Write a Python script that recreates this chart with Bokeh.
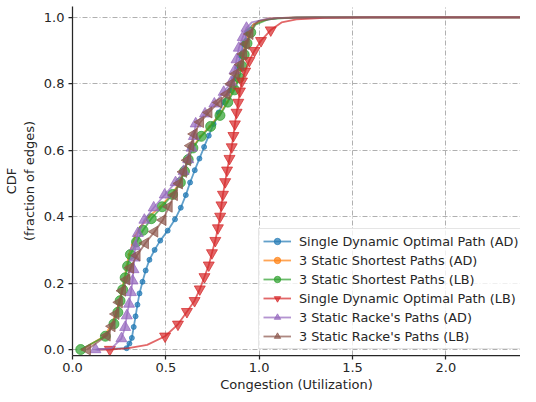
import math
from bokeh.plotting import figure
from bokeh.models import Range1d, FixedTicker, PrintfTickFormatter, Legend, LegendItem
from bokeh.embed import file_html
from bokeh.resources import INLINE

# ---------------- data ----------------
series_names = [
    "Single Dynamic Optimal Path (AD)",
    "3 Static Shortest Paths (AD)",
    "3 Static Shortest Paths (LB)",
    "Single Dynamic Optimal Path (LB)",
    "3 Static Racke's Paths (AD)",
    "3 Static Racke's Paths (LB)",
]

# Single Dynamic Optimal Path (AD)
blue_head_x = [0.13]
blue_head_y = [0.0]
blue_x = [0.29, 0.305, 0.318, 0.328, 0.338, 0.348, 0.359, 0.375, 0.392, 0.412, 0.44, 0.47, 0.51,
          0.549, 0.58, 0.607, 0.63, 0.655, 0.68, 0.705, 0.73, 0.756, 0.783, 0.81, 0.843, 0.865,
          0.884, 0.9, 0.917, 0.935]
blue_y = [0.004, 0.018, 0.035, 0.068, 0.1, 0.135, 0.169, 0.204, 0.238, 0.27, 0.3, 0.328, 0.358,
          0.392, 0.427, 0.465, 0.503, 0.54, 0.575, 0.61, 0.644, 0.679, 0.714, 0.745, 0.78, 0.815,
          0.85, 0.885, 0.92, 0.955]
blue_tail_x = [0.96, 1.0, 1.1, 1.3, 2.45]
blue_tail_y = [0.975, 0.99, 0.998, 1.0, 1.0]

# 3 Static Shortest Paths (AD)
orange_head_x = []
orange_head_y = []
orange_x = [0.05, 0.17, 0.21, 0.235, 0.25, 0.265, 0.278, 0.29, 0.302, 0.32, 0.334, 0.365, 0.41,
            0.47, 0.53, 0.575, 0.598, 0.618, 0.642, 0.685, 0.735, 0.785, 0.828, 0.862, 0.888,
            0.9, 0.912, 0.925, 0.945]
orange_y = [0.0, 0.04, 0.077, 0.112, 0.147, 0.18, 0.216, 0.251, 0.286, 0.315, 0.341, 0.37, 0.4,
            0.43, 0.467, 0.503, 0.537, 0.572, 0.607, 0.642, 0.672, 0.705, 0.745, 0.782, 0.818,
            0.853, 0.888, 0.922, 0.955]
orange_tail_x = [0.97, 1.05, 1.2, 2.45]
orange_tail_y = [0.98, 0.997, 1.0, 1.0]

# 3 Static Shortest Paths (LB)
green_head_x = []
green_head_y = []
green_x = [0.044, 0.176, 0.222, 0.243, 0.255, 0.269, 0.282, 0.295, 0.31, 0.343, 0.378, 0.422,
           0.48, 0.536, 0.578, 0.6, 0.62, 0.645, 0.69, 0.74, 0.79, 0.832, 0.868, 0.893, 0.908,
           0.92, 0.935, 0.955]
green_y = [0.0, 0.04, 0.077, 0.112, 0.147, 0.18, 0.216, 0.251, 0.286, 0.324, 0.359, 0.394,
           0.43, 0.467, 0.503, 0.537, 0.572, 0.607, 0.642, 0.672, 0.705, 0.745, 0.782, 0.818,
           0.853, 0.888, 0.922, 0.955]
green_tail_x = [0.98, 1.05, 1.2, 2.45]
green_tail_y = [0.978, 0.995, 1.0, 1.0]

# Single Dynamic Optimal Path (LB)
red_head_x = [0.14]
red_head_y = [0.0]
red_x = [0.2, 0.3, 0.4, 0.496, 0.565, 0.613, 0.654, 0.682, 0.707, 0.73, 0.747, 0.765, 0.779,
         0.791, 0.798, 0.806, 0.818, 0.828, 0.841, 0.853, 0.862, 0.87, 0.879, 0.888, 0.897,
         0.908, 0.925, 0.947, 0.975, 1.01, 1.062]
red_y = [0.0, 0.004, 0.014, 0.04, 0.076, 0.114, 0.147, 0.182, 0.219, 0.254, 0.291, 0.328, 0.366,
         0.401, 0.435, 0.467, 0.505, 0.54, 0.575, 0.61, 0.644, 0.679, 0.714, 0.744, 0.778,
         0.808, 0.838, 0.87, 0.9, 0.93, 0.962]
red_unmarked = [0.3, 0.4]
red_tail_x = [1.12, 1.2, 1.35, 1.6, 2.45]
red_tail_y = [0.985, 0.994, 0.999, 1.0, 1.0]

# 3 Static Racke's Paths (AD)
purple_head_x = []
purple_head_y = []
purple_x = [0.123, 0.21, 0.262, 0.282, 0.291, 0.303, 0.313, 0.322, 0.327, 0.332, 0.336, 0.35,
            0.385, 0.435, 0.494, 0.552, 0.595, 0.62, 0.638, 0.65, 0.66, 0.71, 0.76, 0.81, 0.85,
            0.868, 0.879, 0.891, 0.912, 0.932]
purple_y = [0.0, 0.004, 0.033, 0.067, 0.102, 0.137, 0.172, 0.207, 0.241, 0.276, 0.31, 0.35,
            0.39, 0.427, 0.466, 0.503, 0.537, 0.572, 0.607, 0.642, 0.68, 0.71, 0.74, 0.775,
            0.805, 0.84, 0.873, 0.908, 0.94, 0.968]
purple_unmarked = [0.21]
purple_tail_x = [0.96, 1.05, 1.2, 2.45]
purple_tail_y = [0.985, 0.997, 1.0, 1.0]

# 3 Static Racke's Paths (LB)
brown_head_x = []
brown_head_y = []
brown_x = [0.079, 0.185, 0.211, 0.232, 0.25, 0.267, 0.29, 0.31, 0.345, 0.39, 0.44, 0.484, 0.517,
           0.545, 0.572, 0.594, 0.616, 0.633, 0.651, 0.685, 0.73, 0.783, 0.826, 0.85, 0.875,
           0.9, 0.915, 0.93, 0.95]
brown_y = [0.0, 0.042, 0.07, 0.107, 0.142, 0.177, 0.211, 0.246, 0.283, 0.32, 0.355, 0.39, 0.43,
           0.465, 0.5, 0.535, 0.57, 0.614, 0.649, 0.685, 0.714, 0.744, 0.769, 0.8, 0.83, 0.858,
           0.89, 0.92, 0.95]
brown_tail_x = [0.975, 1.0, 1.1, 1.3, 2.45]
brown_tail_y = [0.978, 0.99, 0.998, 1.0, 1.0]

x_ticks = [0.0, 0.5, 1.0, 1.5, 2.0]
y_ticks = [0.0, 0.2, 0.4, 0.6, 0.8, 1.0]

# ---------------- figure ----------------
FONT = "DejaVu Sans"
p = figure(width=520, height=394, x_range=Range1d(0, 2.40), y_range=Range1d(-0.018, 1.033),
           output_backend="svg", toolbar_location=None,
           min_border_left=65, min_border_right=0, min_border_top=6, min_border_bottom=30)
p.outline_line_color = None
p.background_fill_color = "white"

for ax in (p.xaxis[0], p.yaxis[0]):
    ax.axis_line_color = "#262626"
    ax.axis_line_width = 1.25
    ax.major_tick_line_color = "#262626"
    ax.major_tick_line_width = 1.25
    ax.major_tick_out = 4
    ax.major_tick_in = 0
    ax.minor_tick_line_color = None
    ax.major_label_text_font = FONT
    ax.major_label_text_font_size = "13px"
    ax.major_label_text_color = "#262626"
    ax.axis_label_text_font = FONT
    ax.axis_label_text_font_size = "13px"
    ax.axis_label_text_font_style = "normal"
    ax.axis_label_text_color = "#262626"
    ax.formatter = PrintfTickFormatter(format="%.1f")

p.xaxis.ticker = FixedTicker(ticks=x_ticks)
p.yaxis.ticker = FixedTicker(ticks=y_ticks)
p.xaxis.axis_label = "Congestion (Utilization)"
p.yaxis.axis_label = "CDF\n(fraction of edges)"
p.xaxis.major_label_standoff = 3
p.yaxis.major_label_standoff = 4
p.xaxis.axis_label_standoff = 2
p.yaxis.axis_label_standoff = 4

for g in (p.xgrid, p.ygrid):
    g.grid_line_color = "#b0b0b0"
    g.grid_line_width = 1
    g.grid_line_dash = "5 2 1 2"

ALPHA = 0.7
specs = [
    (blue_head_x, blue_head_y, blue_x, blue_y, [], blue_tail_x, blue_tail_y, "#1f77b4", "circle", 5, 0.0),
    (orange_head_x, orange_head_y, orange_x, orange_y, [], orange_tail_x, orange_tail_y, "#ff7f0e", "circle", 2, 0.0),
    (green_head_x, green_head_y, green_x, green_y, [], green_tail_x, green_tail_y, "#2ca02c", "circle", 10, 0.0),
    (red_head_x, red_head_y, red_x, red_y, red_unmarked, red_tail_x, red_tail_y, "#d62728", "inverted_triangle", 11, 0.0),
    (purple_head_x, purple_head_y, purple_x, purple_y, purple_unmarked, purple_tail_x, purple_tail_y, "#9467bd", "triangle", 11, 0.0),
    (brown_head_x, brown_head_y, brown_x, brown_y, [], brown_tail_x, brown_tail_y, "#8c564b", "triangle", 11, math.pi / 2),
]

items = []
for name, (hx, hy, mx, my, unmarked, tx, ty, col, mk, sz, ang) in zip(series_names, specs):
    lx = list(hx) + list(mx) + list(tx)
    ly = list(hy) + list(my) + list(ty)
    ln = p.line(lx, ly, line_color=col, line_width=1.8, line_alpha=ALPHA)
    sx = [x for x in mx if x not in unmarked]
    sy = [y for x, y in zip(mx, my) if x not in unmarked]
    sc = p.scatter(sx, sy, marker=mk, size=sz, angle=ang, fill_color=col, line_color=col,
                   fill_alpha=ALPHA, line_alpha=ALPHA, line_width=1)
    items.append(LegendItem(label=name, renderers=[ln, sc]))

legend = Legend(items=items, location=(186, 6))
legend.label_text_font = FONT
legend.label_text_font_size = "12.8px"
legend.label_text_color = "#262626"
legend.glyph_width = 28
legend.glyph_height = 16
legend.label_height = 16
legend.spacing = 3
legend.padding = 4
legend.label_standoff = 8
legend.border_line_color = "#cccccc"
legend.border_line_width = 1
legend.background_fill_color = "white"
legend.background_fill_alpha = 0.8
legend.margin = 0
p.add_layout(legend)

open("out.html", "w").write(file_html(p, INLINE))
